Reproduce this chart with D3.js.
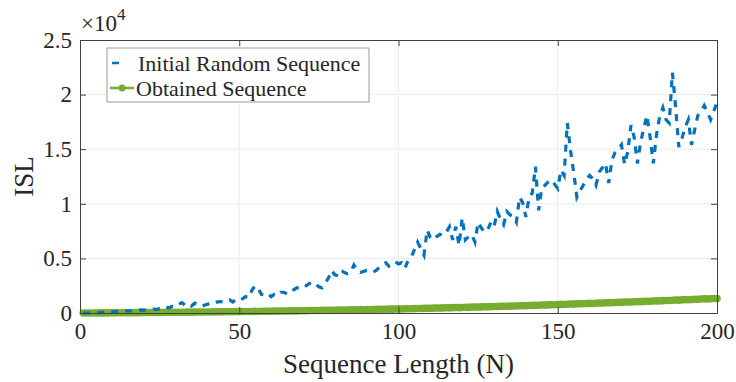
<!DOCTYPE html>
<html>
<head>
<meta charset="utf-8">
<script src="https://cdn.jsdelivr.net/npm/d3@7"></script>
<style>
  body { margin: 0; background: #fff; }
  svg { display: block; font-family: "Liberation Serif", "Times New Roman", serif; }
</style>
</head>
<body>
<svg id="chart" width="736" height="382"></svg>
<script>
// sequence length N = 1..200
const seqLength = d3.range(1, 201);

// ISL of the initial random sequence
const initialIsl = [
  0, 2, 10, 20, 30, 40, 60, 70, 90, 110,
  120, 150, 140, 180, 200, 190, 240, 220, 280, 260,
  300, 280, 350, 330, 400, 380, 520, 480, 600, 550,
  800, 950, 700, 850, 650, 900, 750, 600, 700, 800,
  900, 850, 1000, 1050, 1000, 1100, 1200, 1000, 1250, 1150,
  1300, 1500, 1400, 2100, 2500, 2200, 1700, 1650, 1800, 1500,
  1700, 1600, 1900, 1900, 1750, 1800, 2100, 2300, 2300, 2550,
  2500, 2700, 2850, 2650, 2400, 2300, 2750, 3200, 3900, 3500,
  3400, 3900, 3700, 3600, 3750, 4400, 3900, 3700, 3800, 3900,
  3850, 3750, 3900, 4200, 4400, 4600, 4300, 4500, 4700, 4500,
  4600, 4100, 4800, 5100, 5800, 6500, 5900, 5300, 7600, 6900,
  6700, 7000, 7200, 7100, 7400, 7900, 6700, 7900, 6200, 8700,
  6700, 7000, 7200, 6500, 8300, 7800, 7400, 7600, 8300, 7900,
  9300, 8600, 8100, 9300, 9000, 8800, 8300, 10600, 10100, 8800,
  10600, 11000, 13400, 9400, 11500, 11700, 12000, 12200, 11800, 11400,
  13100, 12600, 17400, 14900, 12900, 10600, 11200, 11700, 12200, 12600,
  12300, 11700, 12900, 13300, 13700, 11900, 14000, 14700, 15000, 15400,
  13600, 14800, 17200, 16100, 13700, 15600, 16900, 18100, 16100, 13700,
  16300, 18000, 18800, 17700, 17400, 22000, 18900, 15200, 16000, 17000,
  17700, 15400, 16800, 18100, 18500, 19000, 18400, 17700, 18500, 19300
];

// ISL of the obtained sequence
const obtainedIsl = [
  2, 3, 4, 5, 6, 8, 9, 11, 12, 14,
  16, 18, 20, 22, 25, 27, 30, 33, 36, 39,
  42, 46, 44, 50, 54, 52, 58, 62, 60, 66,
  70, 68, 74, 78, 76, 82, 86, 84, 92, 96,
  94, 100, 106, 102, 110, 116, 112, 120, 126, 122,
  130, 136, 132, 142, 148, 144, 154, 160, 156, 166,
  172, 168, 180, 186, 182, 192, 198, 194, 206, 212,
  208, 220, 228, 224, 234, 242, 236, 250, 258, 252,
  264, 272, 268, 280, 290, 284, 298, 306, 300, 314,
  322, 318, 332, 340, 336, 350, 358, 352, 368, 376,
  370, 386, 396, 390, 404, 414, 408, 424, 434, 428,
  444, 456, 448, 466, 476, 470, 488, 498, 492, 510,
  522, 514, 534, 546, 540, 558, 570, 562, 582, 594,
  588, 608, 620, 612, 634, 646, 640, 660, 674, 666,
  688, 700, 694, 716, 730, 722, 744, 758, 752, 774,
  788, 780, 804, 818, 812, 836, 850, 842, 866, 880,
  874, 898, 912, 906, 930, 946, 938, 962, 978, 970,
  996, 1012, 1004, 1030, 1046, 1038, 1064, 1080, 1072, 1098,
  1114, 1106, 1132, 1150, 1142, 1168, 1186, 1178, 1204, 1222,
  1214, 1240, 1258, 1250, 1276, 1294, 1286, 1310, 1328, 1320
];

const xTicks = [0, 50, 100, 150, 200];
const yTicks = [0, 5000, 10000, 15000, 20000, 25000];
const seriesNames = ['Initial Random Sequence', 'Obtained Sequence'];

const blue = '#0072BD';
const green = '#77AC30';

const svg = d3.select('#chart');
const margin = { top: 40, right: 19, bottom: 69, left: 80 };
const width = 736 - margin.left - margin.right;
const height = 382 - margin.top - margin.bottom;

const g = svg.append('g').attr('transform', 'translate(' + margin.left + ',' + margin.top + ')');

const x = d3.scaleLinear().domain([0, 200]).range([0, width]);
const y = d3.scaleLinear().domain([0, 25000]).range([height, 0]);

// grid
g.append('g')
  .selectAll('line.gx')
  .data(xTicks.slice(1, -1))
  .join('line')
  .attr('x1', d => x(d)).attr('x2', d => x(d))
  .attr('y1', 0).attr('y2', height)
  .attr('stroke', '#dcdcdc').attr('stroke-dasharray', '1,1');
g.append('g')
  .selectAll('line.gy')
  .data(yTicks.slice(1, -1))
  .join('line')
  .attr('y1', d => y(d)).attr('y2', d => y(d))
  .attr('x1', 0).attr('x2', width)
  .attr('stroke', '#dcdcdc').attr('stroke-dasharray', '1,1');

const line = d3.line()
  .x((d, i) => x(seqLength[i]))
  .y(d => y(d));

g.append('path')
  .datum(obtainedIsl)
  .attr('fill', 'none')
  .attr('stroke', green)
  .attr('stroke-width', 3)
  .attr('d', line);

g.append('g')
  .selectAll('circle')
  .data(obtainedIsl)
  .join('circle')
  .attr('cx', (d, i) => x(seqLength[i]))
  .attr('cy', d => y(d))
  .attr('r', 3.8)
  .attr('fill', green);

g.append('path')
  .datum(initialIsl)
  .attr('fill', 'none')
  .attr('stroke', blue)
  .attr('stroke-width', 3.2)
  .attr('stroke-dasharray', '7,7')
  .attr('d', line);

// axes (MATLAB-style box with inward ticks)
const axisColor = '#404040';
const tickLen = 6;

const xAxis = g.append('g')
  .attr('transform', 'translate(0,' + height + ')')
  .call(d3.axisBottom(x).tickValues(xTicks).tickSizeInner(-tickLen).tickSizeOuter(0).tickPadding(10));
const yAxis = g.append('g')
  .call(d3.axisLeft(y).tickValues(yTicks).tickSizeInner(-tickLen).tickSizeOuter(0).tickPadding(8)
    .tickFormat(d => d === 0 ? '0' : d3.format('')(d / 10000)));
const xTop = g.append('g')
  .call(d3.axisTop(x).tickValues(xTicks).tickSizeInner(-tickLen).tickSizeOuter(0).tickFormat(''));
const yRight = g.append('g')
  .attr('transform', 'translate(' + width + ',0)')
  .call(d3.axisRight(y).tickValues(yTicks).tickSizeInner(-tickLen).tickSizeOuter(0).tickFormat(''));

[xAxis, yAxis, xTop, yRight].forEach(a => {
  a.select('.domain').attr('stroke', axisColor).attr('stroke-width', 1);
  a.selectAll('.tick line').attr('stroke', axisColor);
  a.selectAll('text')
    .attr('fill', '#262626')
    .style('font-family', '"Liberation Serif", "Times New Roman", serif')
    .style('font-size', '23px');
});
xAxis.selectAll('text').attr('dy', '0.71em');

// exponent
const expo = svg.append('text')
  .attr('x', 81).attr('y', 31)
  .attr('fill', '#262626')
  .style('font-size', '23px');
expo.append('tspan').text('\u00d710');
expo.append('tspan').attr('dy', -11).style('font-size', '17px').text('4');

// axis labels
svg.append('text')
  .attr('x', margin.left + width / 2)
  .attr('y', 373)
  .attr('text-anchor', 'middle')
  .attr('fill', '#262626')
  .style('font-size', '27px')
  .text('Sequence Length (N)');

svg.append('text')
  .attr('transform', 'translate(33,' + (margin.top + height / 2) + ') rotate(-90)')
  .attr('text-anchor', 'middle')
  .attr('fill', '#262626')
  .style('font-size', '27px')
  .text('ISL');

// legend
const legend = svg.append('g').attr('transform', 'translate(107,48)');
legend.append('rect')
  .attr('width', 262).attr('height', 54)
  .attr('fill', '#fff')
  .attr('stroke', '#999').attr('stroke-width', 1);

const rows = legend.selectAll('g.row')
  .data(seriesNames)
  .join('g')
  .attr('transform', (d, i) => 'translate(0,' + (15 + i * 25) + ')');

rows.each(function (d, i) {
  const r = d3.select(this);
  if (i === 0) {
    r.append('line').attr('x1', 4).attr('x2', 26).attr('y1', 0).attr('y2', 0)
      .attr('stroke', blue).attr('stroke-width', 2.5).attr('stroke-dasharray', '7,50')
      .attr('stroke-dashoffset', -1);
  } else {
    r.append('line').attr('x1', 3).attr('x2', 27).attr('y1', 0).attr('y2', 0)
      .attr('stroke', green).attr('stroke-width', 2.5);
    r.append('circle').attr('cx', 15).attr('cy', 0).attr('r', 3.5).attr('fill', green);
  }
  r.append('text')
    .attr('x', i === 0 ? 31 : 29).attr('y', 0).attr('dy', '0.35em')
    .attr('fill', '#262626')
    .style('font-size', '22px')
    .text(d);
});
</script>
</body>
</html>
